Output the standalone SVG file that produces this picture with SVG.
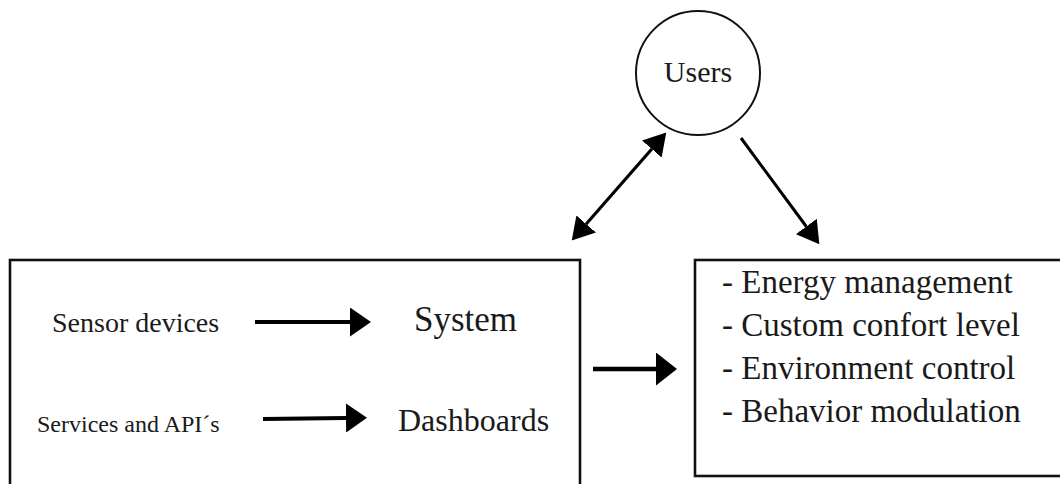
<svg xmlns="http://www.w3.org/2000/svg" width="1060" height="484" viewBox="0 0 1060 484">
  <defs>
    <style>
      .box { fill: #fff; stroke: #111; stroke-width: 2.6; }
      .node { fill: #fff; stroke: #111; stroke-width: 2; }
      .lbl { font-family: "Liberation Serif", "Times New Roman", serif; fill: #1a1a1a; }
      .link { fill: none; stroke: #000; }
    </style>
    <!-- filled triangular heads, sized in user units so stroke width does not scale them -->
    <marker id="head" markerUnits="userSpaceOnUse" viewBox="0 0 22 26" markerWidth="22" markerHeight="26" refX="0" refY="13" orient="auto-start-reverse">
      <path d="M0,0 L22,13 L0,26 Z" fill="#000"/>
    </marker>
    <marker id="headH" markerUnits="userSpaceOnUse" viewBox="0 0 21 29" markerWidth="21" markerHeight="29" refX="0" refY="14.5" orient="auto">
      <path d="M0,0 L21,14.5 L0,29 Z" fill="#000"/>
    </marker>
    <marker id="headL" markerUnits="userSpaceOnUse" viewBox="0 0 21 33" markerWidth="21" markerHeight="33" refX="0" refY="16.5" orient="auto">
      <path d="M0,0 L21,16.5 L0,33 Z" fill="#000"/>
    </marker>
  </defs>

  <rect width="1060" height="484" fill="#fff"/>

  <!-- Users -->
  <g id="users">
    <circle class="node" cx="698" cy="73" r="62"/>
    <text class="lbl" x="698" y="82" font-size="30" text-anchor="middle">Users</text>
  </g>

  <!-- data sources feeding the system -->
  <g id="platform">
    <rect class="box" x="10" y="260" width="570" height="250"/>
    <text class="lbl" x="52" y="332" font-size="28">Sensor devices</text>
    <text class="lbl" x="414" y="331" font-size="35">System</text>
    <text class="lbl" x="37" y="432" font-size="24">Services and API´s</text>
    <text class="lbl" x="398" y="431" font-size="32">Dashboards</text>
  </g>

  <!-- outcomes -->
  <g id="outcomes">
    <rect class="box" x="695" y="260" width="400" height="216"/>
    <text class="lbl" x="722" y="293" font-size="33">- Energy management</text>
    <text class="lbl" x="722" y="336" font-size="33">- Custom confort level</text>
    <text class="lbl" x="722" y="379" font-size="33">- Environment control</text>
    <text class="lbl" x="722" y="422" font-size="33">- Behavior modulation</text>
  </g>

  <g id="connectors">
    <line class="link" x1="255" y1="322" x2="350" y2="322" stroke-width="4" marker-end="url(#headH)"/>
    <line class="link" x1="263" y1="419" x2="346" y2="418" stroke-width="4" marker-end="url(#headH)"/>
    <line class="link" x1="593" y1="369" x2="656" y2="369" stroke-width="4.5" marker-end="url(#headL)"/>
    <line class="link" x1="586.2" y1="224" x2="651.8" y2="149" stroke-width="3.2" marker-start="url(#head)" marker-end="url(#head)"/>
    <line class="link" x1="741" y1="138" x2="806.3" y2="226.5" stroke-width="3" marker-end="url(#head)"/>
  </g>
</svg>
